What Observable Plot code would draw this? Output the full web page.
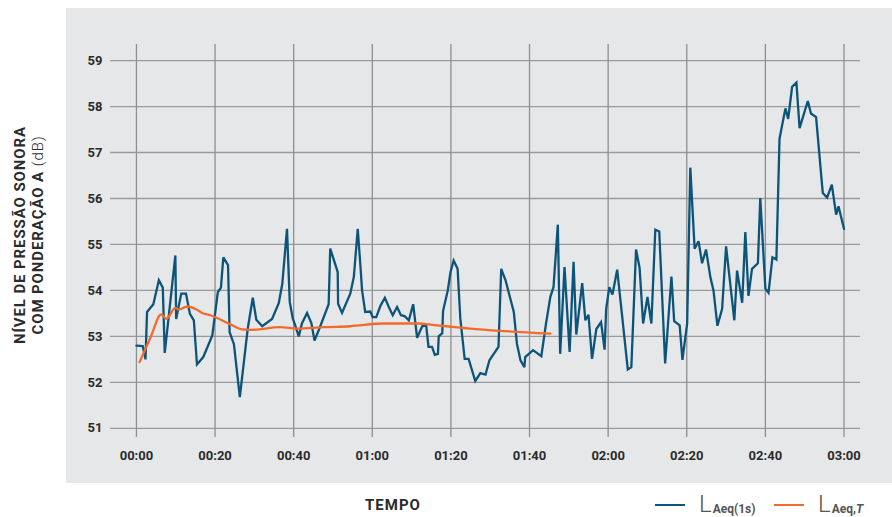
<!DOCTYPE html>
<html><head><meta charset="utf-8">
<script src="https://cdn.jsdelivr.net/npm/d3@7"></script>
<script src="https://cdn.jsdelivr.net/npm/@observablehq/plot@0.6"></script>
<style>
body{margin:0;background:#fff;font-family:Roboto,"Noto Sans",sans-serif;overflow:hidden;}
#wrap{position:relative;width:892px;height:517px;}
#panel{position:absolute;left:66px;top:8px;width:826px;height:475px;background:#e6e7e9;}
#chart{position:absolute;left:0;top:0;}
#ytitle{position:absolute;left:-101px;top:217px;width:260px;height:36px;line-height:18px;text-align:center;transform:rotate(-90deg);font-size:15px;font-weight:700;color:#2b2b2b;letter-spacing:0.9px;white-space:nowrap;}
#ytitle .light{font-weight:300;}
#xtitle{position:absolute;left:293px;width:200px;top:498px;text-align:center;font-size:15px;line-height:15px;font-weight:700;color:#2b2b2b;letter-spacing:1px;}
.sw{position:absolute;width:30px;height:2.4px;top:504px;}
.lab{position:absolute;top:494px;font-size:24px;line-height:20px;height:20px;font-weight:300;color:#555;white-space:nowrap;}
.lab sub{font-size:12px;line-height:12px;font-weight:700;vertical-align:-1px;color:#555;margin-left:1px;}
</style></head>
<body>
<div id="wrap">
  <div id="panel"></div>
  <div id="chart"></div>
  <div id="ytitle">NÍVEL DE PRESSÃO SONORA<br>COM PONDERAÇÃO A <span class="light">(dB)</span></div>
  <div id="xtitle">TEMPO</div>
  <div class="sw" style="left:655px;background:#0c5479"></div>
  <div class="lab" style="left:699px">L<sub>Aeq(1s)</sub></div>
  <div class="sw" style="left:774px;background:#f26b2a"></div>
  <div class="lab" style="left:818px">L<sub>Aeq,<i>T</i></sub></div>
</div>
<script>
// L_Aeq(1s): minutes since start, dB
const laeqMin = [0,1.6,2.3,2.7,4.3,5.7,6.7,7.2,9.9,10.1,11.4,12.6,13.6,14.6,15.4,17.0,19.3,20.7,21.5,22.1,23.3,23.7,24.8,26.3,28.3,29.6,30.5,32.0,34.5,36.2,37.1,38.3,39.0,39.8,40.3,41.3,42.1,43.4,44.5,45.3,46.5,48.9,49.3,51.2,51.3,52.3,54.4,55.3,56.3,57.0,57.4,58.2,59.5,60.1,61.0,62.1,63.2,64.2,65.2,66.3,67.3,68.2,69.3,70.4,71.4,72.7,73.7,74.3,75.2,75.9,76.7,76.9,77.8,78.0,79.2,79.9,80.7,81.7,82.4,83.5,84.5,86.2,87.5,88.8,89.8,92.1,92.8,93.9,96.0,96.8,97.7,98.7,98.9,100.9,103.0,104.2,105.3,106.1,107.2,107.8,108.9,110.2,111.2,111.9,113.4,114.2,115.0,115.9,117.0,118.2,119.1,119.5,120.3,121.1,122.3,123.5,125.0,125.9,127.1,128.0,128.9,130.0,131.0,132.0,133.0,134.5,136.1,136.8,138.2,138.9,140.1,140.9,142.0,143.0,143.9,144.9,146.0,146.8,147.8,149.0,150.0,152.1,152.8,154.1,154.9,155.7,156.6,158.1,158.7,160.0,160.8,161.8,162.8,163.6,165.1,165.8,166.8,167.9,168.7,170.8,171.6,172.9,174.6,175.7,176.9,178.0,178.6,180.0];
const laeqVal = [52.80,52.79,52.50,53.53,53.70,54.22,54.06,52.64,54.76,53.38,53.93,53.93,53.49,53.35,52.39,52.55,53.02,53.96,54.06,54.72,54.55,53.09,52.83,51.68,53.16,53.84,53.36,53.22,53.38,53.72,54.14,55.34,53.75,53.38,53.26,53.00,53.28,53.51,53.29,52.91,53.16,53.70,54.91,54.40,53.71,53.51,53.93,54.29,55.34,54.51,54.00,53.53,53.54,53.42,53.42,53.67,53.84,53.64,53.46,53.64,53.46,53.44,53.35,53.70,52.97,53.22,53.24,52.77,52.77,52.60,52.62,53.00,53.07,53.55,54.00,54.40,54.65,54.47,53.38,52.51,52.51,52.03,52.20,52.17,52.48,52.77,54.47,54.22,53.53,52.84,52.48,52.33,52.55,52.70,52.57,53.28,53.86,54.07,55.43,52.62,54.51,52.66,54.62,53.04,54.16,53.35,53.47,52.51,53.16,53.31,52.71,53.60,54.07,53.91,54.45,53.49,52.28,52.33,54.89,54.49,53.28,53.86,53.28,55.32,55.28,52.41,54.30,53.33,53.24,52.49,53.28,56.67,54.91,55.07,54.59,54.89,54.29,54.00,53.23,53.60,54.96,53.35,54.43,53.73,55.27,53.88,54.47,54.59,56.01,54.04,53.95,54.72,54.67,57.30,57.96,57.73,58.43,58.52,57.53,58.12,57.85,57.77,56.12,56.02,56.30,55.65,55.83,55.34];
// L_Aeq,T (running average)
const ltMin = [0.8,3.6,6.3,7.6,9.9,10.8,12.9,15.4,16.7,18.8,23.9,26.9,29.0,36.6,40.9,47.6,54.4,62.9,71.4,76.5,82.4,84.9,92.6,105.3];
const ltVal = [52.44,52.98,53.48,53.38,53.62,53.58,53.65,53.58,53.51,53.46,53.26,53.15,53.14,53.20,53.17,53.20,53.22,53.28,53.28,53.24,53.19,53.17,53.12,53.06];
// axes
const yTicks = [51,52,53,54,55,56,57,58,59];
const xTicks = [0,20,40,60,80,100,120,140,160,180];
const xTickLabels = ["00:00","00:20","00:40","01:00","01:20","01:40","02:00","02:20","02:40","03:00"];

const s1 = laeqMin.map((m,i)=>({m, v: laeqVal[i]}));
const s2 = ltMin.map((m,i)=>({m, v: ltVal[i]}));

const chart = Plot.plot({
  width: 892, height: 517,
  marginLeft: 110, marginRight: 32, marginTop: 44, marginBottom: 80,
  style: {background: "transparent", fontFamily: "Roboto, 'Noto Sans', sans-serif", fontSize: "13px", color: "#2b2b2b"},
  x: {domain: [-6.6, 184.2]},
  y: {domain: [50.8, 59.35]},
  marks: [
    Plot.ruleY(yTicks, {stroke: "#9a9a9a", strokeWidth: 1.3}),
    Plot.ruleX(xTicks, {stroke: "#8f8f8f", strokeWidth: 1.3}),
    Plot.axisY(yTicks, {tickSize: 0, tickPadding: 8, fontWeight: "bold", fontSize: 13, label: null, fill: "#2b2b2b"}),
    Plot.axisX(xTicks, {tickSize: 0, tickPadding: 13, fontWeight: "bold", fontSize: 13, label: null, fill: "#2b2b2b",
      tickFormat: d => xTickLabels[xTicks.indexOf(d)]}),
    Plot.line(s1, {x: "m", y: "v", stroke: "#0c5479", strokeWidth: 2.3, strokeLinejoin: "miter", strokeMiterlimit: 3}),
    Plot.line(s2, {x: "m", y: "v", stroke: "#f26b2a", strokeWidth: 2.3, curve: "monotone-x"})
  ]
});
document.getElementById("chart").appendChild(chart);
</script>
</body></html>
